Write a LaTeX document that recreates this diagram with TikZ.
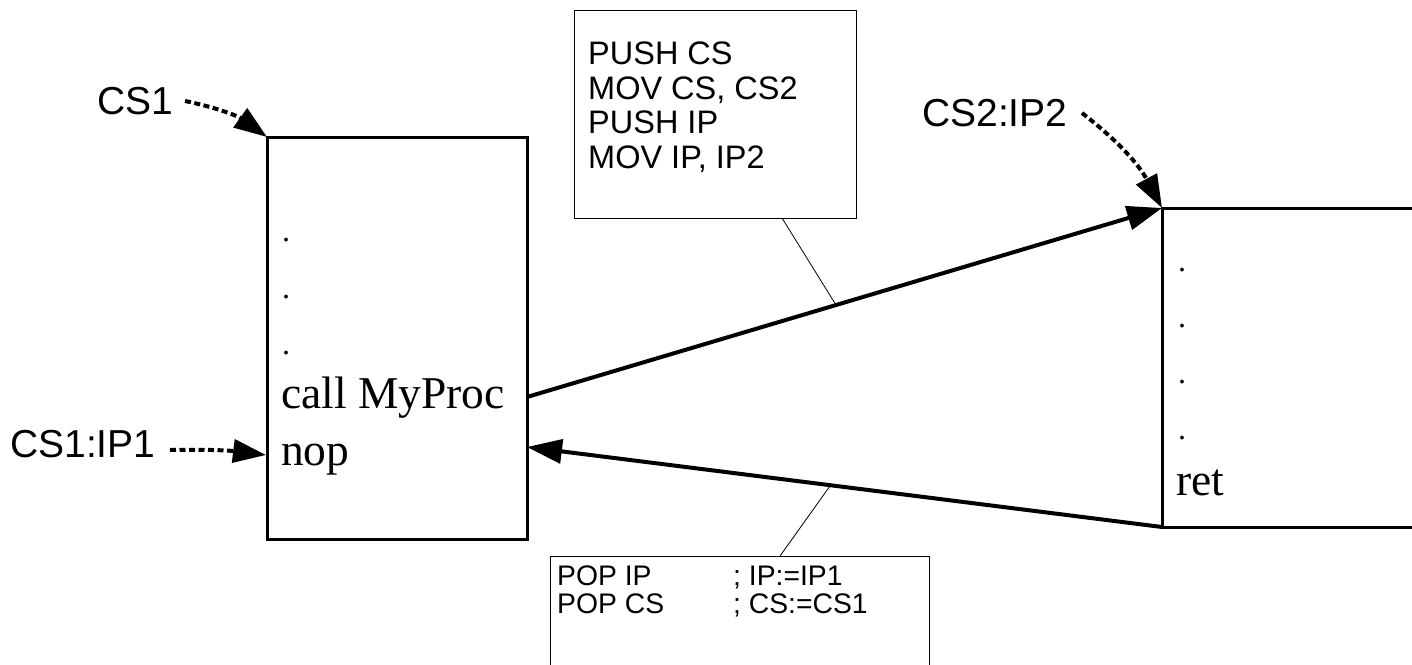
\documentclass[tikz,border=0pt]{standalone}
\usepackage{fontspec}
\setmainfont{Liberation Serif}
\setsansfont{Liberation Sans}
\usetikzlibrary{arrows.meta}
\tikzset{
  codebox/.style={draw, line width=3pt, inner sep=0pt},
  thinbox/.style={draw, line width=1pt, inner sep=0pt},
  serif/.style={font=\fontsize{45.5}{48}\selectfont, inner sep=0pt, anchor=base west},
  dotmark/.style={font=\fontsize{32}{34}\selectfont, inner sep=0pt, anchor=base west},
  lbl/.style={font=\sffamily\fontsize{39}{40}\selectfont, inner sep=0pt, anchor=base west},
  codeA/.style={font=\sffamily\fontsize{32.5}{34}\selectfont, inner sep=0pt, anchor=base west},
  codeB/.style={font=\sffamily\fontsize{28.3}{30}\selectfont, inner sep=0pt, anchor=base west},
  bigarrow/.style={line width=4pt, -{Triangle[length=35pt,width=24pt]}},
  ptrarrow/.style={line width=4pt, dash pattern=on 6pt off 3.5pt, -{Triangle[length=33pt,width=23pt]}},
  callout/.style={line width=0.8pt},
}
\begin{document}
\begin{tikzpicture}[x=1pt,y=1pt]
\useasboundingbox[fill=white] (0,0) rectangle (1412,-664);
% boxes
\node[codebox, minimum width=260pt, minimum height=402pt] (lbox) at (397,-338) {};
\node[codebox, minimum width=320pt, minimum height=319pt] (rbox) at (1322,-367.5) {};
\node[thinbox, minimum width=282pt, minimum height=208pt] (tbox) at (715,-114) {};
\node[thinbox, minimum width=379pt, minimum height=120pt] (bbox) at (739.5,-616) {};
% left box text
\node[dotmark] (ld1) at (282,-241) {.};
\node[dotmark] (ld2) at (282,-298) {.};
\node[dotmark] (ld3) at (282,-354) {.};
\node[serif] (lcall) at (281,-408) {call MyProc};
\node[serif] (lnop) at (281,-465) {nop};
% right box text
\node[dotmark] (rd1) at (1178,-271) {.};
\node[dotmark] (rd2) at (1178,-327) {.};
\node[dotmark] (rd3) at (1178,-383) {.};
\node[dotmark] (rd4) at (1178,-439) {.};
\node[serif] (rret) at (1176,-495) {ret};
% top box text
\node[codeA] (t1) at (588,-64) {PUSH CS};
\node[codeA] (t2) at (588,-99) {MOV CS, CS2};
\node[codeA] (t3) at (588,-133) {PUSH IP};
\node[codeA] (t4) at (588,-168) {MOV IP, IP2};
% bottom box text
\node[codeB] (b1) at (557,-585) {POP IP};
\node[codeB] (b1c) at (733,-585) {; IP:=IP1};
\node[codeB] (b2) at (557,-613) {POP CS};
\node[codeB] (b2c) at (733,-613) {; CS:=CS1};
% labels
\node[lbl] (cs1) at (97,-114) {CS1};
\node[lbl] (cs1ip1) at (10,-457) {CS1:IP1};
\node[lbl] (cs2ip2) at (922,-126) {CS2:IP2};
% coordinates
\coordinate (callA) at (527,-397);
\coordinate (callB) at (1162,-208);
\coordinate (retA) at (1162,-527);
\coordinate (retB) at (527,-447);
\coordinate (cs1s) at (185,-101);
\coordinate (cs1e) at (267,-137);
\coordinate (ip1s) at (170,-450);
\coordinate (ip1e) at (266,-455);
\coordinate (cs2s) at (1082,-113);
\coordinate (tfoot) at (782,-218);
\coordinate (bfoot) at (780,-556);
% main arrows
\draw[bigarrow] (callA) -- coordinate[pos=0.4866] (callmid) (callB);
\draw[bigarrow] (retA) -- coordinate[pos=0.522] (retmid) (retB);
% callouts
\draw[callout] (tfoot) -- (callmid);
\draw[callout] (bfoot) -- (retmid);
% pointer arrows
\draw[ptrarrow] (cs1s) to[bend left=12] (cs1e);
\draw[ptrarrow] (ip1s) to[bend left=4] (ip1e);
\draw[ptrarrow] (cs2s) to[bend left=12] (callB);
\end{tikzpicture}
\end{document}
